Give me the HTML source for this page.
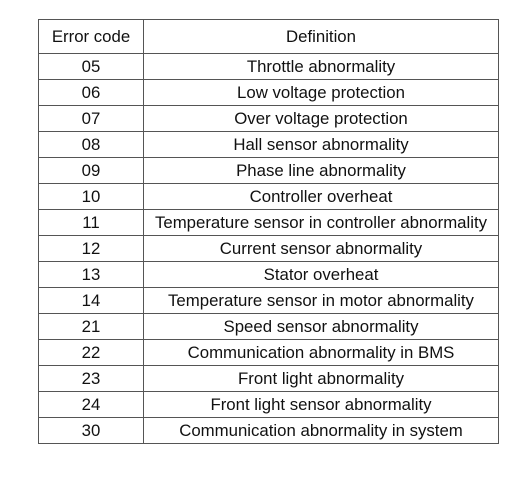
<!DOCTYPE html>
<html><head><style>
body{margin:0;background:#fff;width:524px;height:482px;position:relative;font-family:"Liberation Sans",Arial,sans-serif;}
table{position:absolute;left:38px;top:19px;border-collapse:collapse;font-size:16.8px;color:#111;}
td{border:1px solid #555;text-align:center;padding:0;height:25px;line-height:25px;white-space:nowrap;}
tr.h td{height:33px;}
td.a{width:104px;}td.b{width:354px;}
</style></head><body>
<table>
<tr class="h"><td class="a">Error code</td><td class="b">Definition</td></tr>
<tr><td>05</td><td>Throttle abnormality</td></tr>
<tr><td>06</td><td>Low voltage protection</td></tr>
<tr><td>07</td><td>Over voltage protection</td></tr>
<tr><td>08</td><td>Hall sensor abnormality</td></tr>
<tr><td>09</td><td>Phase line abnormality</td></tr>
<tr><td>10</td><td>Controller overheat</td></tr>
<tr><td>11</td><td>Temperature sensor in controller abnormality</td></tr>
<tr><td>12</td><td>Current sensor abnormality</td></tr>
<tr><td>13</td><td>Stator overheat</td></tr>
<tr><td>14</td><td>Temperature sensor in motor abnormality</td></tr>
<tr><td>21</td><td>Speed sensor abnormality</td></tr>
<tr><td>22</td><td>Communication abnormality in BMS</td></tr>
<tr><td>23</td><td>Front light abnormality</td></tr>
<tr><td>24</td><td>Front light sensor abnormality</td></tr>
<tr><td>30</td><td>Communication abnormality in system</td></tr>
</table>
</body></html>
